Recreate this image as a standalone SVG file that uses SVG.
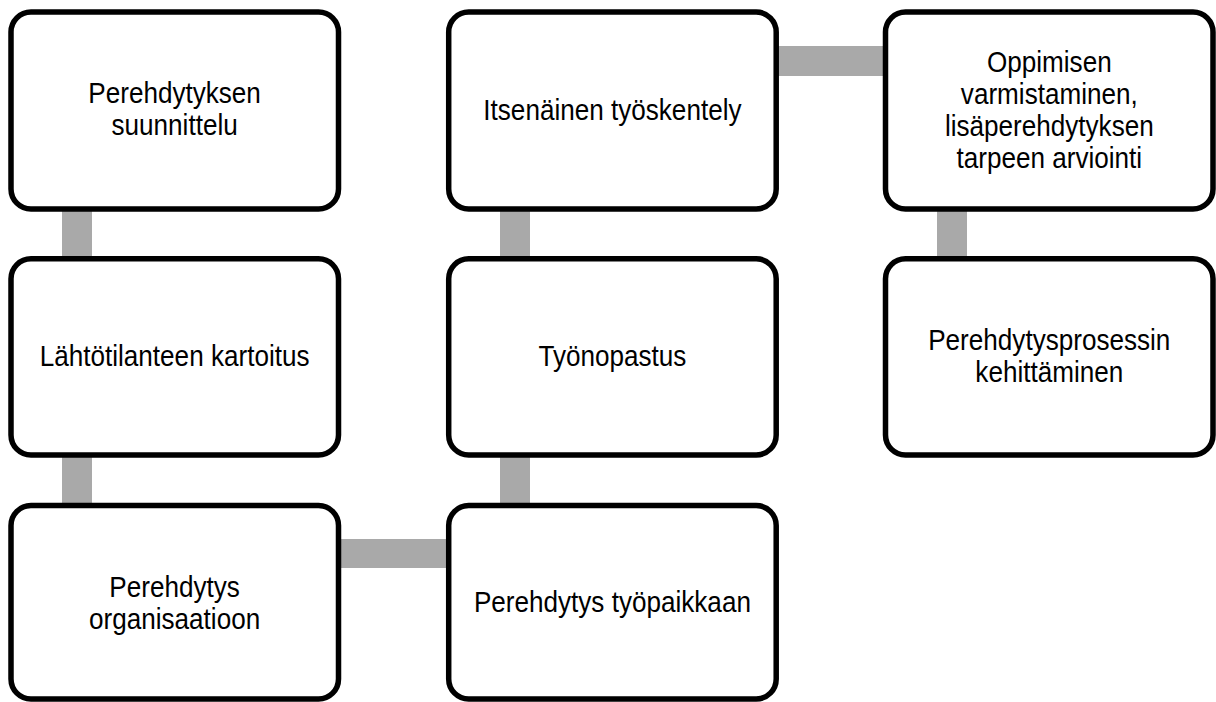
<svg xmlns="http://www.w3.org/2000/svg" width="1216" height="702" viewBox="0 0 1216 702">
<style>
.box{fill:#ffffff;stroke:#000000;stroke-width:5.5}
.conn{fill:#A9A9A9;stroke:none}
.lbl{font-family:"Liberation Sans",Arial,sans-serif;font-size:29px;fill:#000000;text-anchor:middle}
</style>
<rect width="1216" height="702" fill="#ffffff"/>
<g id="connectors">
<rect class="conn" x="62" y="200" width="30" height="65"/>
<rect class="conn" x="62" y="448" width="30" height="65"/>
<rect class="conn" x="500" y="200" width="30" height="65"/>
<rect class="conn" x="500" y="448" width="30" height="65"/>
<rect class="conn" x="937" y="200" width="30" height="65"/>
<rect class="conn" x="330" y="539" width="125" height="29"/>
<rect class="conn" x="768" y="46" width="125" height="30"/>
</g>
<g id="node1">
<rect class="box" x="11" y="12" width="327.5" height="197" rx="20"/>
<text class="lbl" transform="translate(174.6,0) scale(0.9,1)"><tspan x="0" y="103.5">Perehdytyksen</tspan><tspan x="0" y="135.5">suunnittelu</tspan></text>
</g>
<g id="node2">
<rect class="box" x="11" y="258.8" width="327.5" height="196.2" rx="20"/>
<text class="lbl" transform="translate(174.6,0) scale(0.9,1)" x="0" y="366.5">Lähtötilanteen kartoitus</text>
</g>
<g id="node3">
<rect class="box" x="11" y="505.5" width="327.5" height="193.5" rx="20"/>
<text class="lbl" transform="translate(174.6,0) scale(0.9,1)"><tspan x="0" y="597">Perehdytys</tspan><tspan x="0" y="629">organisaatioon</tspan></text>
</g>
<g id="node4">
<rect class="box" x="448.7" y="505.5" width="327.5" height="193.5" rx="20"/>
<text class="lbl" transform="translate(612.4,0) scale(0.9,1)" x="0" y="612">Perehdytys työpaikkaan</text>
</g>
<g id="node5">
<rect class="box" x="448.7" y="258.8" width="327.5" height="196.2" rx="20"/>
<text class="lbl" transform="translate(612.4,0) scale(0.9,1)" x="0" y="366.5">Työnopastus</text>
</g>
<g id="node6">
<rect class="box" x="448.7" y="12" width="327.5" height="197" rx="20"/>
<text class="lbl" transform="translate(612.4,0) scale(0.9,1)" x="0" y="120">Itsenäinen työskentely</text>
</g>
<g id="node7">
<rect class="box" x="885.5" y="12" width="327.5" height="197" rx="20"/>
<text class="lbl" transform="translate(1049.3,0) scale(0.9,1)"><tspan x="0" y="72">Oppimisen</tspan><tspan x="0" y="104">varmistaminen,</tspan><tspan x="0" y="136">lisäperehdytyksen</tspan><tspan x="0" y="168">tarpeen arviointi</tspan></text>
</g>
<g id="node8">
<rect class="box" x="885.5" y="258.8" width="327.5" height="196.2" rx="20"/>
<text class="lbl" transform="translate(1049.3,0) scale(0.9,1)"><tspan x="0" y="350">Perehdytysprosessin</tspan><tspan x="0" y="382">kehittäminen</tspan></text>
</g>
</svg>
